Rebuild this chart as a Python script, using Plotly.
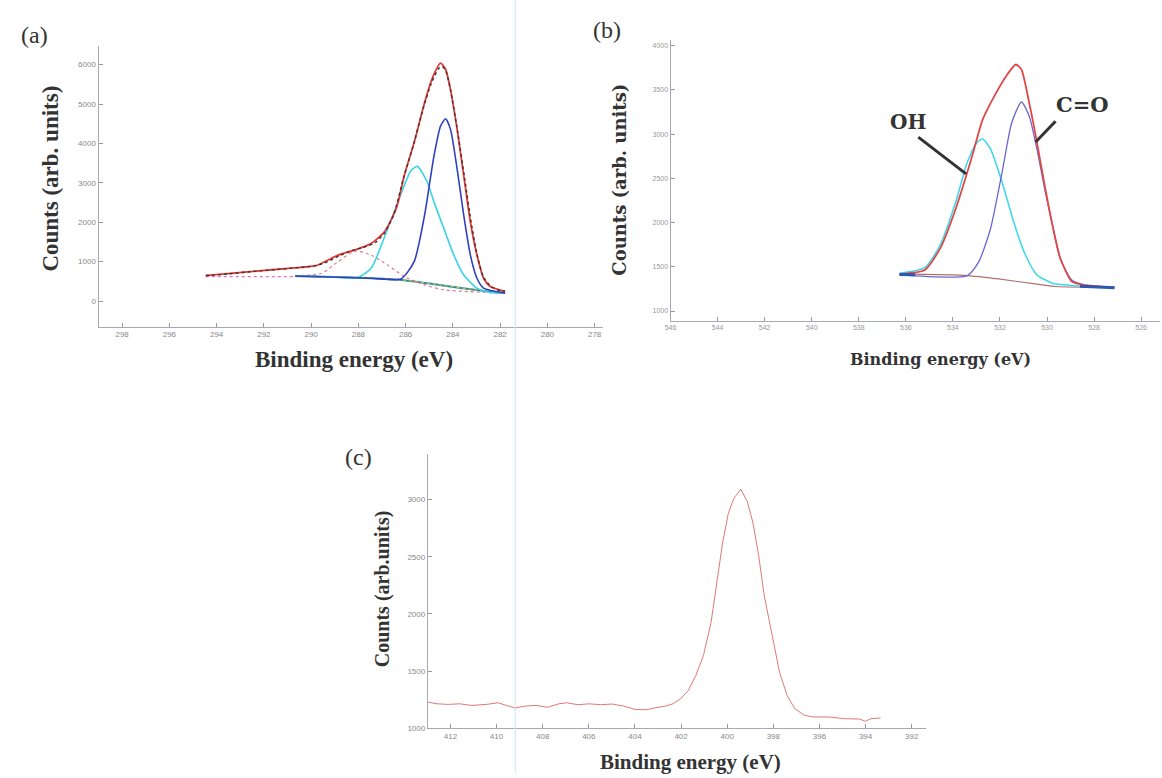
import plotly.graph_objects as go

W, H = 1162, 778

# ---------------- Panel (a): C1s ----------------
a_data_eV = [294.46, 293.5, 292.5, 291.5, 290.5, 289.8, 289.3, 288.8, 288.3, 287.8, 287.3, 286.9, 286.5,
             286.1, 285.7, 285.3, 284.9, 284.6, 284.45, 284.3, 284.1, 283.8, 283.5, 283.2, 282.95, 282.7,
             282.4, 282.1, 281.79]
a_data_cnt = [650, 690, 750, 800, 850, 900, 1000, 1150, 1280, 1360, 1480, 1720, 2200,
              3100, 3900, 4800, 5550, 5900, 5950, 5850, 5350, 4300, 3100, 1900, 1100, 600,
              380, 280, 250]
a_env_eV = [294.46, 293.06, 292.08, 290.96, 289.8, 288.86, 288.16, 287.46, 286.9, 286.4, 286.06, 285.6,
            285.2, 284.87, 284.52, 284.31, 284.1, 283.82, 283.54, 283.26, 282.98, 282.7, 282.42, 281.79]
a_env_cnt = [647, 722, 772, 831, 899, 1167, 1293, 1461, 1755, 2343, 3182, 4106,
             5030, 5659, 6037, 5882, 5365, 4357, 3182, 2007, 1167, 579, 369, 244]
a_cyan_eV = [290.68, 289.0, 288.02, 287.46, 286.76, 286.06, 285.78, 285.5, 285.08, 284.8, 284.38,
             283.96, 283.54, 282.98, 282.42, 281.79]
a_cyan_cnt = [638, 610, 600, 831, 1839, 2930, 3308, 3418, 3015, 2511, 1839,
              1167, 662, 327, 219, 202]
a_blue_eV = [290.68, 287.46, 286.2, 285.64, 285.2, 284.8, 284.52, 284.31, 284.1, 283.82, 283.54,
             283.26, 282.98, 282.7, 281.79]
a_blue_cnt = [638, 579, 560, 999, 2174, 3686, 4441, 4627, 4357, 3350, 2174,
              1167, 579, 327, 202]
a_pink_eV = [290.68, 289.56, 288.86, 288.16, 287.46, 286.76, 286.06, 285.2, 284.38, 283.3, 282.4, 281.79]
a_pink_cnt = [640, 705, 999, 1268, 1167, 915, 621, 411, 285, 240, 215, 205]
a_base_eV = [290.68, 289.0, 287.46, 286.06, 284.7, 283.26, 281.79]
a_base_cnt = [638, 610, 579, 530, 420, 300, 202]
a_flat_eV = [294.46, 290.2]
a_flat_cnt = [621, 621]

# ---------------- Panel (b): O1s ----------------
b_env_eV = [536.27, 535.2, 534.54, 533.88, 533.22, 532.73, 532.24, 531.74, 531.33, 531.09, 530.76,
            530.43, 530.1, 529.77, 529.44, 528.95, 528.45, 527.14]
b_env_cnt = [1419, 1464, 1708, 2157, 2719, 3169, 3430, 3655, 3787, 3730, 3356,
             2907, 2419, 1970, 1596, 1334, 1296, 1266]
b_oh_eV = [536.27, 535.2, 534.54, 533.88, 533.39, 532.98, 532.73, 532.4, 531.91, 531.42, 530.92,
           530.43, 529.77, 528.95, 527.14]
b_oh_cnt = [1427, 1491, 1745, 2232, 2682, 2907, 2944, 2831, 2457, 2008, 1633,
            1408, 1315, 1289, 1266]
b_co_eV = [536.27, 533.39, 532.9, 532.4, 531.91, 531.5, 531.09, 530.76, 530.43, 530.1, 529.77,
           529.44, 528.95, 528.29, 527.14]
b_co_cnt = [1408, 1401, 1558, 1933, 2570, 3131, 3363, 3206, 2831, 2382, 1970,
            1596, 1352, 1289, 1266]
b_base_eV = [536.27, 533.39, 532.07, 530.43, 529.61, 527.14]
b_base_cnt = [1419, 1401, 1363, 1303, 1277, 1266]
b_edge1_eV = [536.27, 535.6]
b_edge1_cnt = [1412, 1410]
b_edge2_eV = [528.6, 527.14]
b_edge2_cnt = [1280, 1264]

# ---------------- Panel (c): N1s ----------------
c_eV = [412.99, 412.58, 412.08, 411.59, 411.09, 410.43, 409.94, 409.61, 409.19, 408.78, 408.29, 407.79,
        407.30, 406.97, 406.47, 405.98, 405.48, 404.99, 404.49, 404.00, 403.50, 403.17, 402.68, 402.35,
        402.02, 401.69, 401.36, 401.03, 400.70, 400.45, 400.20, 399.95, 399.71, 399.41, 399.13, 398.88,
        398.63, 398.39, 398.06, 397.73, 397.40, 397.07, 396.65, 396.24, 395.58, 394.92, 394.26, 394.01,
        393.77, 393.35]
c_cnt = [1229, 1214, 1209, 1214, 1200, 1209, 1223, 1200, 1177, 1194, 1200, 1183,
         1214, 1223, 1206, 1214, 1206, 1212, 1194, 1165, 1162, 1177, 1194, 1214,
         1258, 1330, 1461, 1635, 1925, 2272, 2620, 2880, 3011, 3090, 2983, 2794,
         2504, 2157, 1809, 1490, 1287, 1171, 1113, 1099, 1099, 1084, 1081, 1061,
         1084, 1090]

a_xticks = [298, 296, 294, 292, 290, 288, 286, 284, 282, 280, 278]
a_yticks = [0, 1000, 2000, 3000, 4000, 5000, 6000]
b_xticks = [546, 544, 542, 540, 538, 536, 534, 532, 530, 528, 526]
b_yticks = [1000, 1500, 2000, 2500, 3000, 3500, 4000]
c_xticks = [412, 410, 408, 406, 404, 402, 400, 398, 396, 394, 392]
c_yticks = [1000, 1500, 2000, 2500, 3000]

fig = go.Figure()

def add(x, y, axis, color, width=1.5, dash="solid", opacity=1.0):
    fig.add_trace(go.Scatter(x=x, y=y, mode="lines", xaxis="x" + axis if axis != "1" else "x",
                             yaxis="y" + axis if axis != "1" else "y",
                             line=dict(color=color, width=width, dash=dash, shape="spline", smoothing=0.6),
                             opacity=opacity, showlegend=False, hoverinfo="skip"))

# panel a
add(a_flat_eV, a_flat_cnt, "1", "#e070d0", 1.2, "dot")
add(a_base_eV, a_base_cnt, "1", "#2a8a9a", 2.0)
add(a_base_eV, a_base_cnt, "1", "#d8d040", 1.0, "dot")
add(a_pink_eV, a_pink_cnt, "1", "#e07890", 1.2, "dot")
add(a_cyan_eV, a_cyan_cnt, "1", "#3ad4e6", 1.6)
add(a_blue_eV, a_blue_cnt, "1", "#3040c0", 1.6)
add(a_env_eV, a_env_cnt, "1", "#e03a3a", 1.8)
add(a_data_eV, a_data_cnt, "1", "#4a3028", 1.4, "dot")

# panel b
add(b_base_eV, b_base_cnt, "2", "#b07070", 1.2)
add(b_oh_eV, b_oh_cnt, "2", "#40d8ea", 1.6)
add(b_co_eV, b_co_cnt, "2", "#6a68d0", 1.3)
add(b_env_eV, b_env_cnt, "2", "#e04848", 1.8)
add(b_edge1_eV, b_edge1_cnt, "2", "#2c58b0", 3)
add(b_edge2_eV, b_edge2_cnt, "2", "#2c58b0", 3)

# panel c
fig.add_trace(go.Scatter(x=c_eV, y=c_cnt, mode="lines", xaxis="x3", yaxis="y3",
                         line=dict(color="#e07878", width=1), showlegend=False, hoverinfo="skip"))

tickfont = dict(family="Liberation Sans", size=8, color="#888")
def axis_common():
    return dict(showgrid=False, zeroline=False, showline=True, linecolor="#a8a8b8", linewidth=1,
                ticks="inside", ticklen=4, tickcolor="#999", tickfont=tickfont, mirror=False)

fig.update_layout(
    width=W, height=H, margin=dict(l=0, r=0, t=0, b=0),
    paper_bgcolor="white", plot_bgcolor="white",
    xaxis=dict(domain=[93 / W, 600 / W], range=[299, 277.65], tickvals=a_xticks, anchor="y", **axis_common()),
    yaxis=dict(domain=[1 - 329 / H, 1 - 46 / H], range=[-655, 6480], tickvals=a_yticks, anchor="x", **axis_common()),
    xaxis2=dict(domain=[668 / W, 1160 / W], range=[546, 525.2], tickvals=b_xticks, anchor="y2",
                **{**axis_common(), "tickfont": dict(family="Liberation Sans", size=7, color="#999")}),
    yaxis2=dict(domain=[1 - 323 / H, 1 - 40 / H], range=[888, 4067], tickvals=b_yticks, anchor="x2",
                **{**axis_common(), "tickfont": dict(family="Liberation Sans", size=7, color="#999")}),
    xaxis3=dict(domain=[424 / W, 925 / W], range=[412.98, 391.37], tickvals=c_xticks, anchor="y3", **axis_common()),
    yaxis3=dict(domain=[1 - 733 / H, 1 - 456.7 / H], range=[1000, 3400], tickvals=c_yticks, anchor="x3", **axis_common()),
)

def px(x, y):
    return x / W, 1 - y / H

def text(x, y, s, size, family="Liberation Serif", angle=0, color="#333"):
    xx, yy = px(x, y)
    fig.add_annotation(x=xx, y=yy, xref="paper", yref="paper", text=s, showarrow=False,
                       font=dict(family=family, size=size, color=color), textangle=angle,
                       xanchor="center", yanchor="middle")

# panel labels
text(29, 35, "(a)", 24)
text(604, 30, "(b)", 24)
text(354, 460, "(c)", 24)

# axis titles
text(45, 180, "<b>Counts (arb. units)</b>", 23, angle=-90)
text(350, 362, "<b>Binding energy (eV)</b>", 23)
text(617, 181, "<b>Counts (arb. units)</b>", 18, family="DejaVu Serif", angle=-90)
text(939, 362, "<b>Binding energy (eV)</b>", 16, family="DejaVu Serif")
text(378, 593, "<b>Counts (arb.units)</b>", 20, angle=-90)
text(688, 767, "<b>Binding energy (eV)</b>", 21)

# peak labels in (b)
text(907, 123, "<b>OH</b>", 20, family="DejaVu Serif")
text(1082, 105, "<b>C=O</b>", 21, family="DejaVu Serif")

def seg(x0, y0, x1, y1, color="#333", width=3):
    a0, b0 = px(x0, y0)
    a1, b1 = px(x1, y1)
    fig.add_shape(type="line", xref="paper", yref="paper", x0=a0, y0=b0, x1=a1, y1=b1,
                  line=dict(color=color, width=width))

seg(917, 138, 965, 175)
seg(1055, 122, 1035, 143)

# faint scanning line
seg(512, 0, 512, 778, color="#c4ecf4", width=1)

fig.write_html("out.html")
